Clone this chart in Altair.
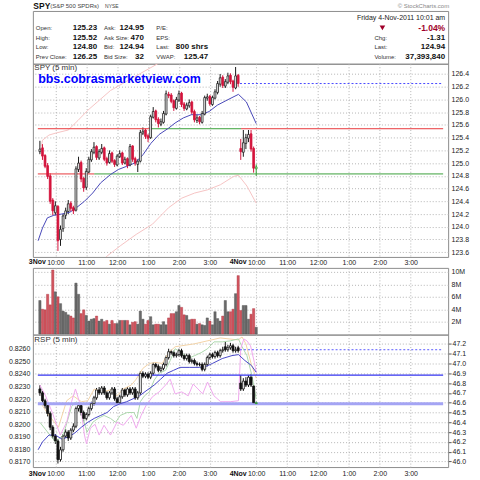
import altair as alt
import pandas as pd

# ---------------- data ----------------
spy_open = [125.18, 125.24, 125.12, 124.96, 124.80, 124.42, 124.22, 124.32, 123.80, 123.97,
            124.18, 124.24, 124.37, 124.30, 124.26, 124.90, 125.01, 124.76, 124.62, 124.86,
            125.05, 125.17, 125.26, 125.08, 125.17, 125.24, 125.07, 125.01, 125.16, 125.04,
            124.97, 125.10, 125.16, 125.00, 125.07, 124.97, 125.27, 125.07, 124.98, 125.03,
            125.47, 125.52, 125.43, 125.40, 125.72, 125.82, 125.69, 125.61, 125.64, 125.77,
            126.08, 126.07, 125.98, 125.86, 125.99, 126.10, 125.93, 125.85, 125.90, 125.96,
            125.81, 125.67, 125.72, 125.64, 125.77, 126.02, 126.05, 125.92, 126.02, 126.11,
            126.24, 126.35, 126.21, 126.27, 126.38, 126.29, 126.18, 126.38,
            125.23, 125.17, 125.31, 125.39, 125.46, 125.23, 124.91]
spy_high = [125.35, 125.30, 125.14, 125.00, 124.84, 124.45, 124.40, 124.34, 124.02, 124.20,
            124.30, 124.42, 124.40, 124.33, 124.95, 125.10, 125.04, 124.78, 124.92, 125.10,
            125.22, 125.33, 125.28, 125.22, 125.30, 125.26, 125.10, 125.20, 125.18, 125.06,
            125.14, 125.20, 125.18, 125.10, 125.09, 125.30, 125.28, 125.10, 125.06, 125.52,
            125.56, 125.54, 125.46, 125.76, 125.88, 125.84, 125.72, 125.70, 125.82, 126.14,
            126.12, 126.10, 126.00, 126.04, 126.14, 126.12, 125.96, 125.95, 126.00, 125.98,
            125.84, 125.76, 125.74, 125.82, 126.06, 126.09, 126.07, 126.06, 126.16, 126.29,
            126.40, 126.38, 126.32, 126.42, 126.41, 126.31, 126.51, 126.40,
            125.38, 125.52, 125.46, 125.52, 125.52, 125.26, 124.98]
spy_low = [125.14, 125.05, 124.92, 124.75, 124.36, 124.18, 124.18, 123.62, 123.70, 123.92,
           124.12, 124.20, 124.24, 124.20, 124.24, 124.86, 124.70, 124.55, 124.58, 124.84,
           125.02, 125.14, 125.05, 125.05, 125.14, 125.03, 124.96, 124.99, 125.00, 124.94,
           124.95, 125.08, 124.97, 124.98, 124.92, 124.95, 125.02, 124.96, 124.86, 125.01,
           125.44, 125.38, 125.33, 125.38, 125.70, 125.64, 125.56, 125.58, 125.62, 125.75,
           126.02, 125.94, 125.82, 125.84, 125.96, 125.88, 125.82, 125.83, 125.87, 125.76,
           125.64, 125.63, 125.61, 125.62, 125.75, 125.98, 125.90, 125.90, 126.00, 126.08,
           126.20, 126.18, 126.18, 126.24, 126.24, 126.12, 126.16, 126.20,
           125.05, 125.10, 125.22, 125.33, 125.18, 124.85, 124.80]
spy_close = [125.22, 125.11, 124.95, 124.79, 124.40, 124.25, 124.33, 123.78, 123.96, 124.17,
             124.25, 124.36, 124.29, 124.25, 124.91, 125.00, 124.75, 124.61, 124.87, 125.06,
             125.18, 125.25, 125.09, 125.18, 125.23, 125.06, 125.00, 125.15, 125.03, 124.98,
             125.11, 125.15, 125.00, 125.06, 124.96, 125.26, 125.06, 125.00, 125.03, 125.48,
             125.50, 125.42, 125.39, 125.73, 125.81, 125.68, 125.62, 125.65, 125.78, 126.09,
             126.06, 125.97, 125.87, 126.00, 126.09, 125.92, 125.86, 125.91, 125.95, 125.80,
             125.68, 125.71, 125.65, 125.78, 126.03, 126.04, 125.93, 126.03, 126.12, 126.25,
             126.34, 126.22, 126.28, 126.37, 126.28, 126.19, 126.37, 126.25,
             125.18, 125.32, 125.40, 125.45, 125.22, 124.92, 124.94]
volume_m = [5.4, 4.0, 3.9, 6.4, 4.7, 10.3, 6.8, 6.0, 4.9, 3.7, 3.5, 3.1, 2.9, 2.6, 8.2, 6.4, 3.3, 3.9,
            3.0, 2.1, 2.4, 2.5, 2.9, 2.1, 2.4, 2.0, 2.2, 1.6, 2.2, 1.7, 1.7, 2.2, 2.2, 2.2, 2.2, 1.5,
            1.9, 2.0, 1.6, 3.7, 2.4, 1.6, 2.2, 2.8, 1.5, 1.6, 1.6, 1.5, 2.0, 1.5, 2.6,
            3.3, 3.3, 3.6, 4.6, 4.3, 3.1, 3.0, 2.3, 2.4, 2.4, 1.6, 1.7, 1.5, 1.4, 2.6, 2.1, 1.5,
            3.6, 2.5, 2.1, 2.9, 5.4, 3.6, 3.6, 4.0, 6.5, 9.4, 3.8, 4.6, 4.6, 2.4, 3.2, 4.1, 1.1]

rsp_open = [46.74, 46.70, 46.62, 46.57, 46.49, 46.35, 46.26, 46.21, 46.02, 46.12,
            46.26, 46.30, 46.24, 46.32, 46.36, 46.54, 46.57, 46.50, 46.44, 46.48,
            46.54, 46.59, 46.65, 46.73, 46.70, 46.75, 46.70, 46.65, 46.70, 46.74,
            46.64, 46.60, 46.66, 46.73, 46.68, 46.74, 46.70, 46.74, 46.65, 46.70,
            46.90, 46.87, 46.89, 46.86, 46.90, 46.99, 46.97, 46.93, 46.95, 46.99,
            47.06, 47.12, 47.11, 47.08, 47.09, 47.13, 47.08, 47.05, 47.08, 47.02,
            47.03, 47.00, 46.99, 46.99, 46.94, 46.99, 47.06, 47.09, 47.07, 47.11,
            47.08, 47.13, 47.17, 47.14, 47.16, 47.18, 47.13, 47.16,
            46.80, 46.74, 46.82, 46.78, 46.86, 46.77, 46.59]
rsp_high = [46.78, 46.72, 46.64, 46.59, 46.51, 46.37, 46.28, 46.23, 46.15, 46.28,
            46.33, 46.32, 46.34, 46.39, 46.56, 46.60, 46.59, 46.52, 46.50, 46.56,
            46.61, 46.67, 46.75, 46.76, 46.77, 46.77, 46.72, 46.72, 46.76, 46.76,
            46.66, 46.68, 46.75, 46.75, 46.76, 46.76, 46.76, 46.76, 46.72, 46.92,
            46.92, 46.91, 46.91, 46.92, 47.01, 47.01, 46.99, 46.97, 47.01, 47.08,
            47.15, 47.14, 47.13, 47.11, 47.15, 47.15, 47.10, 47.10, 47.10, 47.05,
            47.05, 47.02, 47.01, 47.01, 47.01, 47.08, 47.11, 47.11, 47.13, 47.13,
            47.15, 47.17, 47.22, 47.19, 47.21, 47.20, 47.17, 47.18,
            46.88, 46.85, 46.86, 46.88, 46.89, 46.78, 46.61]
rsp_low = [46.67, 46.60, 46.54, 46.46, 46.32, 46.23, 46.18, 45.98, 46.00, 46.10,
           46.24, 46.21, 46.22, 46.30, 46.34, 46.51, 46.47, 46.41, 46.42, 46.46,
           46.52, 46.57, 46.63, 46.68, 46.68, 46.68, 46.63, 46.63, 46.68, 46.62,
           46.58, 46.58, 46.64, 46.66, 46.66, 46.68, 46.68, 46.63, 46.63, 46.68,
           46.85, 46.85, 46.84, 46.84, 46.88, 46.95, 46.91, 46.91, 46.93, 46.97,
           47.04, 47.09, 47.06, 47.06, 47.07, 47.06, 47.03, 47.03, 47.00, 47.00,
           46.98, 46.97, 46.97, 46.92, 46.92, 46.97, 47.04, 47.05, 47.05, 47.06,
           47.06, 47.11, 47.12, 47.12, 47.14, 47.11, 47.11, 47.11,
           46.72, 46.72, 46.76, 46.76, 46.76, 46.58, 46.58]
rsp_close = [46.70, 46.62, 46.57, 46.49, 46.35, 46.26, 46.21, 46.02, 46.12, 46.26,
             46.30, 46.24, 46.32, 46.36, 46.54, 46.57, 46.50, 46.44, 46.48, 46.54,
             46.59, 46.65, 46.73, 46.70, 46.75, 46.70, 46.65, 46.70, 46.74, 46.64,
             46.60, 46.66, 46.73, 46.68, 46.74, 46.70, 46.74, 46.65, 46.70, 46.90,
             46.87, 46.89, 46.86, 46.90, 46.99, 46.97, 46.93, 46.95, 46.99, 47.06,
             47.12, 47.11, 47.08, 47.09, 47.13, 47.08, 47.05, 47.08, 47.02, 47.03,
             47.00, 46.99, 46.99, 46.94, 46.99, 47.06, 47.09, 47.07, 47.11, 47.08,
             47.13, 47.14, 47.14, 47.16, 47.18, 47.13, 47.14, 47.13,
             46.74, 46.82, 46.78, 46.86, 46.78, 46.60, 46.60]

spy_ma_i = [-0.7, 1.0, 2.9, 5.4, 8.5, 11.7, 14.2, 17.3, 20.5, 23.6, 27.4, 30.5, 33.7, 36.8,
            40.0, 43.1, 46.3, 50.0, 52.5, 55.7, 58.8, 62.6, 65.7, 68.9, 72.7, 77.1, 80.2, 84.0]
spy_ma_v = [123.78, 123.98, 124.14, 124.18, 124.20, 124.23, 124.30, 124.40, 124.53, 124.69,
            124.82, 124.90, 124.95, 125.00, 125.13, 125.31, 125.45, 125.55, 125.63, 125.71,
            125.76, 125.76, 125.81, 125.91, 125.99, 126.08, 125.96, 125.62]
spy_up_i = [0.5, 1.0, 3.5, 6.0, 11.0, 14.8, 18.6, 22.3, 27.4, 34.3, 45.7, 55.0, 65.0, 77.0, 84.0]
spy_up_v = [125.25, 125.36, 125.44, 125.47, 125.52, 125.67, 125.83, 125.96, 126.14, 126.30,
            126.56, 126.75, 126.85, 126.95, 126.80]
spy_lo_i = [0.0, 10.0, 20.0, 26.1, 31.2, 37.4, 43.7, 50.0, 55.1, 60.1, 65.1, 70.1, 75.2, 77.1, 80.4, 84.0]
spy_lo_v = [122.60, 122.90, 123.30, 123.54, 123.70, 123.88, 124.04, 124.30, 124.45, 124.53,
            124.58, 124.66, 124.79, 124.81, 124.64, 124.37]
spy_level_v = [125.54, 125.54, 125.54, 124.83, 124.83]
spy_level_from = [-0.8, 42.6, 78.1, -0.8, 21.1]
spy_level_to = [42.6, 78.1, 156.6, 21.1, 156.6]
spy_level_kind = ["resistance", "support", "resistance", "resistance", "support"]
spy_prev_close = 126.25
rsp_prev_close = 47.14
prev_close_from = 77.7

rsp_ma_i = [-0.7, 1.0, 3.5, 6.0, 8.5, 11.0, 13.5, 16.1, 18.6, 21.1, 23.6, 26.1, 28.6, 31.2, 33.7,
            36.2, 38.7, 41.2, 44.4, 46.9, 49.4, 51.9, 54.4, 58.2, 62.0, 64.5, 67.0, 70.8, 74.6,
            77.1, 79.6, 82.1, 84.0]
rsp_ma_v = [46.12, 46.20, 46.27, 46.27, 46.23, 46.25, 46.29, 46.35, 46.40, 46.44, 46.47, 46.50,
            46.56, 46.59, 46.61, 46.64, 46.67, 46.72, 46.78, 46.84, 46.90, 46.93, 46.96, 46.96,
            46.96, 46.97, 47.00, 47.05, 47.08, 47.09, 47.03, 46.98, 46.91]
rsp_pink_i = [0, 2.2, 4.8, 7.9, 10.4, 12.3, 13.8, 15.8, 17.3, 18.1, 19.6, 21.4, 23.0, 24.9, 27.4,
              29.9, 32.4, 35.5, 37.4, 39.3, 41.2, 43.7, 46.3, 48.8, 50.6, 52.5, 55.1, 57.6, 59.5,
              61.4, 63.2, 65.1, 67.6, 70.2, 73.9, 77.1, 78.0, 79.2, 80.4, 81.8, 83.3, 84.0]
rsp_pink_v = [46.78, 46.67, 46.50, 46.27, 46.40, 46.61, 46.74, 46.57, 46.27, 46.18, 46.34, 46.38,
              46.27, 46.37, 46.27, 46.40, 46.37, 46.47, 46.34, 46.47, 46.57, 46.66, 46.71, 46.78,
              46.84, 46.69, 46.71, 46.67, 46.79, 46.74, 46.69, 46.81, 46.67, 46.61, 46.61, 46.62,
              47.15, 47.25, 47.23, 47.18, 47.01, 46.91]
rsp_green_i = [0, 3.0, 6.0, 9.1, 12.3, 14.2, 16.1, 18.3, 20.5, 22.6, 24.9, 27.4, 29.4, 31.2, 33.9,
               36.5, 37.7, 39.0, 40.6, 42.5, 44.4, 46.3, 48.8, 50.6, 52.5, 55.1, 57.6, 60.1, 62.6,
               65.1, 67.6, 70.8, 73.9, 77.1, 78.3, 80.4, 82.3, 84.0]
rsp_green_v = [46.40, 46.30, 46.20, 46.27, 46.56, 46.61, 46.50, 46.30, 46.40, 46.44, 46.47, 46.44,
               46.40, 46.47, 46.50, 46.50, 46.44, 46.61, 46.67, 46.71, 46.83, 46.90, 46.93, 47.03,
               47.15, 47.11, 47.05, 47.08, 47.11, 47.15, 47.22, 47.22, 47.23, 47.25, 47.18, 47.08,
               46.88, 46.64]
rsp_orange_i = [0, 3.5, 7.2, 10.4, 12.9, 16.1, 18.6, 21.1, 24.2, 27.4, 29.9, 32.4, 35.5, 37.4,
                40.0, 42.5, 45.0, 47.5, 50.0, 52.5, 60.0, 70.0, 77.0, 78.5, 80.0, 82.0, 84.0]
rsp_orange_v = [46.61, 46.47, 46.35, 46.62, 46.67, 46.61, 46.62, 46.74, 46.71, 46.73, 46.67, 46.74,
                46.78, 46.84, 46.95, 47.00, 47.01, 47.00, 47.11, 47.17, 47.20, 47.26, 47.24, 47.27,
                47.20, 47.00, 46.85]
rsp_level_v = [46.88, 46.59]

spy_ticks = [123.6, 123.8, 124.0, 124.2, 124.4, 124.6, 124.8, 125.0, 125.2, 125.4, 125.6,
             125.8, 126.0, 126.2, 126.4]
vol_ticks = [2, 4, 6, 8, 10]
rsp_ticks = [46.0, 46.1, 46.2, 46.3, 46.4, 46.5, 46.6, 46.7, 46.8, 46.9, 47.0, 47.1, 47.2]
ratio_ticks = [0.8170, 0.8180, 0.8190, 0.8200, 0.8210, 0.8220, 0.8230, 0.8240, 0.8250, 0.8260]
hour_ticks = [6, 18, 30, 42, 54, 66, 84, 96, 108, 120, 132, 144]
hour_labels = ["10:00", "11:00", "12:00", "1:00", "2:00", "3:00",
               "10:00", "11:00", "12:00", "1:00", "2:00", "3:00"]
day_ticks = [6, 84]
day_labels = ["3Nov", "4Nov"]

title_main = "SPY"
title_name = "(S&P 500 SPDRs)"
title_exch = "NYSE"
credit = "© StockCharts.com"
timestamp = "Friday  4-Nov-2011  10:01 am"
col1_labels = ["Open:", "High:", "Low:", "Prev Close:"]
col1_values = ["125.23", "125.52", "124.80", "126.25"]
col2_labels = ["Ask:", "Ask Size:", "Bid:", "Bid Size:"]
col2_values = ["124.95", "470", "124.94", "32"]
col3_labels = ["P/E:", "EPS:", "Last:", "VWAP:"]
col3_values = ["", "", "800 shrs", "125.47"]
side_labels = ["", "Chg:", "Last:", "Volume:"]
side_values = ["", "-1.31", "124.94", "37,393,840"]
pct_change = "-1.04%"
spy_panel_title = "SPY (5 min)"
rsp_panel_title = "RSP (5 min)"
watermark = "bbs.cobrasmarketview.com"

# ---------------- layout constants ----------------
W = 417
H_HEAD, H_PRICE, H_GAP, H_VOL, H_RSP = 53, 194, 11, 67, 133
X_DOMAIN = [-0.8, 156.6]
SPY_DOMAIN = [123.526, 126.561]
VOL_DOMAIN = [-0.08, 10.64]
RSP_DOMAIN = [45.944, 47.294]
RATIO_DOMAIN = [0.81658, 0.82713]
FONT = "Liberation Sans"
GRID = "#b4b4b4"

n = len(spy_close)
spy_prev = [spy_open[0]] + spy_close[:-1]
spy_stroke, spy_fill, vol_fill, vol_stroke, rsp_stroke, rsp_fill = [], [], [], [], [], []
for k in range(n):
    o, c, p = spy_open[k], spy_close[k], spy_prev[k]
    if k == n - 1:
        s, f = "#2f9e2f", "#c9ecc9"
    elif c >= p:
        s, f = "#1a1a1a", ("#ffffff" if c >= o else "#4a4a4a")
    else:
        s, f = ("#d4143c", "#d4143c") if c < o else ("#e8708a", "#fbdde3")
    spy_stroke.append(s)
    spy_fill.append(f)
    vol_fill.append("#d2555f" if c < p else "#6b6b6b")
    vol_stroke.append("#a83440" if c < p else "#4a4a4a")
    ro, rc = rsp_open[k], rsp_close[k]
    if k == n - 1:
        rsp_stroke.append("#2f9e2f"); rsp_fill.append("#2f9e2f")
    else:
        rsp_stroke.append("#111111"); rsp_fill.append("#ffffff" if rc >= ro else "#111111")

bars = pd.DataFrame({
    "i": list(range(n)), "o": spy_open, "h": spy_high, "l": spy_low, "c": spy_close,
    "v": volume_m, "zero": [0] * n,
    "ro": rsp_open, "rh": rsp_high, "rl": rsp_low, "rc": rsp_close,
    "s": spy_stroke, "f": spy_fill, "vf": vol_fill, "vs": vol_stroke,
    "rs": rsp_stroke, "rf": rsp_fill,
})

xscale = alt.Scale(domain=X_DOMAIN, nice=False, zero=False)
hour_expr = ("[" + ",".join("'%s'" % s for s in hour_labels) + "][indexof(["
             + ",".join(str(t) for t in hour_ticks) + "], datum.value)]")


def x_axis(labels, pad):
    return alt.Axis(values=hour_ticks, grid=True, gridColor=GRID, gridDash=[1, 2], ticks=False,
                    domain=False, labels=labels, labelExpr=hour_expr, labelFont=FONT,
                    labelFontSize=7, labelColor="#222", labelPadding=pad, labelFlush=False,
                    labelOverlap=False, labelBound=False, title=None)


def y_axis(values, fmt=None, expr=None, orient="right", ticks=False, grid=True):
    kw = dict(orient=orient, values=values, grid=grid, gridColor=GRID, gridDash=[1, 2],
              ticks=ticks, domain=False, labelFont=FONT, labelFontSize=7, labelColor="#222",
              labelPadding=1 if ticks else 3, labelFlush=False, labelOverlap=False, title=None)
    if ticks:
        kw.update(tickSize=3, tickColor="#555")
    if fmt:
        kw["format"] = fmt
    if expr:
        kw["labelExpr"] = expr
    return alt.Axis(**kw)


def line_df(xs, ys):
    return pd.DataFrame({"i": xs, "v": ys})


def txt(text, x, y, align="left", size=7, weight="normal", color="#222", font=FONT, baseline="middle"):
    return alt.Chart(pd.DataFrame({"t": [text]})).mark_text(
        align=align, baseline=baseline, font=font, fontSize=size, fontWeight=weight, color=color
    ).encode(x=alt.value(x), y=alt.value(y), text="t:N")


# ---------------- header ----------------
frame = alt.Chart(pd.DataFrame({"a": [0]})).mark_rect(opacity=0).encode(
    x=alt.value(-32), x2=alt.value(448), y=alt.value(-9), y2=alt.value(471))
head = [frame,
        txt(title_main, 0.5, -4.5, size=8.5, weight="bold", color="#111"),
        txt(title_name, 17.5, -4.5, size=6, color="#444"),
        txt(title_exch, 72.5, -4.5, size=5, color="#444"),
        txt(credit, 418, -4.5, align="right", size=6, color="#888"),
        txt(timestamp, 414, 7, align="right", size=7, color="#222"),
        txt(pct_change, 414, 17, align="right", size=8.5, weight="bold", color="#a0002a"),
        alt.Chart(pd.DataFrame({"a": [0]})).mark_point(shape="triangle-down", filled=True, size=32,
                                                      color="#a0002a", opacity=1).encode(
            x=alt.value(351), y=alt.value(17))]
row_y = [17, 26.8, 36.6, 46.4]
for labels, values, lx, vx in [(col1_labels, col1_values, 3, 64.5),
                               (col2_labels, col2_values, 71.5, 111.5),
                               (col3_labels, col3_values, 124, 176),
                               (side_labels, side_values, 343, 414)]:
    for r in range(4):
        if labels[r]:
            head.append(txt(labels[r], lx, row_y[r], size=6, color="#333"))
        if values[r]:
            head.append(txt(values[r], vx, row_y[r], align="right", size=8, weight="bold", color="#111"))
header = alt.layer(*head).properties(width=W, height=H_HEAD)

days = pd.DataFrame({"i": day_ticks, "t": day_labels})

# ---------------- price panel ----------------
px_ax = x_axis(True, 1.5)
py_ax = y_axis(spy_ticks, fmt=".1f")
spy_y = alt.Scale(domain=SPY_DOMAIN, nice=False, zero=False)


def PX(field="i"):
    return alt.X(field + ":Q", scale=xscale, axis=px_ax)


def PY(field):
    return alt.Y(field + ":Q", scale=spy_y, axis=py_ax)


spy_wick = alt.Chart(bars).mark_rule(strokeWidth=1).encode(
    x=PX(), y=PY("l"), y2="h:Q", color=alt.Color("s:N", scale=None))
spy_body = alt.Chart(bars).mark_bar(size=1.8, strokeWidth=0.8).encode(
    x=PX(), y=PY("o"), y2="c:Q",
    fill=alt.Fill("f:N", scale=None), stroke=alt.Stroke("s:N", scale=None))
levels = pd.DataFrame({"v": spy_level_v, "a": spy_level_from, "b": spy_level_to, "k": spy_level_kind})
spy_levels = alt.Chart(levels).mark_rule(strokeWidth=1).encode(
    x=PX("a"), x2="b:Q", y=PY("v"),
    color=alt.Color("k:N", scale=alt.Scale(domain=["resistance", "support"], range=["#e8383c", "#3aa03a"]),
                    legend=None))
spy_pc = alt.Chart(pd.DataFrame({"v": [spy_prev_close], "a": [prev_close_from], "b": [X_DOMAIN[1]]})).mark_rule(
    strokeWidth=1, strokeDash=[2, 2], color="#4646ff").encode(x=PX("a"), x2="b:Q", y=PY("v"))
spy_ma = alt.Chart(line_df(spy_ma_i, spy_ma_v)).mark_line(strokeWidth=1, color="#4848b8", clip=True).encode(
    x=PX(), y=PY("v"))
spy_up = alt.Chart(line_df(spy_up_i, spy_up_v)).mark_line(strokeWidth=1, color="#f6c4c4", clip=True).encode(
    x=PX(), y=PY("v"))
spy_lo = alt.Chart(line_df(spy_lo_i, spy_lo_v)).mark_line(strokeWidth=1, color="#f6c4c4", clip=True).encode(
    x=PX(), y=PY("v"))
spy_days = alt.Chart(days).mark_text(align="right", baseline="top", font=FONT, fontSize=7,
                                     fontWeight="bold", color="#111", dx=-9.5).encode(
    x=PX(), y=alt.value(H_PRICE + 1.5), text="t:N")

price = alt.layer(
    spy_wick, spy_up, spy_lo, spy_levels, spy_pc, spy_ma, spy_body,
    txt(spy_panel_title, 1.5, 4.5, size=8, color="#333"),
    txt(watermark, 5.3, 15.5, size=12.5, weight="bold", color="#0000ff"),
    spy_days,
).properties(width=W, height=H_PRICE)

# spacer row that holds the price panel's time labels
gap = alt.Chart(pd.DataFrame({"a": [0]})).mark_point(opacity=0).encode(
    x=alt.value(0), y=alt.value(0)).properties(
    width=W, height=H_GAP, view=alt.ViewBackground(strokeOpacity=0))

# ---------------- volume panel ----------------
vol_y = alt.Scale(domain=VOL_DOMAIN, nice=False, zero=False)
volume = alt.Chart(bars).mark_bar(size=2.3, strokeWidth=0.4).encode(
    x=alt.X("i:Q", scale=xscale, axis=x_axis(False, 1)),
    y=alt.Y("v:Q", scale=vol_y, axis=y_axis(vol_ticks, expr="datum.value + 'M'")), y2="zero:Q",
    fill=alt.Fill("vf:N", scale=None), stroke=alt.Stroke("vs:N", scale=None)
).properties(width=W, height=H_VOL)

# ---------------- RSP panel ----------------
rx_ax = x_axis(True, 2.5)
ry_ax = y_axis(rsp_ticks, fmt=".1f", ticks=True)
rsp_y = alt.Scale(domain=RSP_DOMAIN, nice=False, zero=False)


def RX(field="i"):
    return alt.X(field + ":Q", scale=xscale, axis=rx_ax)


def RY(field):
    return alt.Y(field + ":Q", scale=rsp_y, axis=ry_ax)


rsp_wick = alt.Chart(bars).mark_rule(strokeWidth=1).encode(
    x=RX(), y=RY("rl"), y2="rh:Q", color=alt.Color("rs:N", scale=None))
rsp_body = alt.Chart(bars).mark_bar(size=2.0, strokeWidth=0.8).encode(
    x=RX(), y=RY("ro"), y2="rc:Q",
    fill=alt.Fill("rf:N", scale=None), stroke=alt.Stroke("rs:N", scale=None))


def rsp_line(xs, ys, color, width=1):
    return alt.Chart(line_df(xs, ys)).mark_line(strokeWidth=width, color=color, clip=True).encode(
        x=RX(), y=RY("v"))


rsp_lv = pd.DataFrame({"v": rsp_level_v, "a": [X_DOMAIN[0]] * 2, "b": [X_DOMAIN[1]] * 2})
rsp_level_solid = alt.Chart(rsp_lv.iloc[[0]]).mark_rule(strokeWidth=1.3, color="#3434f0").encode(
    x=RX("a"), x2="b:Q", y=RY("v"))
rsp_level_soft = alt.Chart(rsp_lv.iloc[[1]]).mark_rule(strokeWidth=3, color="#a4a4f4").encode(
    x=RX("a"), x2="b:Q", y=RY("v"))
rsp_pc = alt.Chart(pd.DataFrame({"v": [rsp_prev_close], "a": [prev_close_from], "b": [X_DOMAIN[1]]})).mark_rule(
    strokeWidth=1, strokeDash=[2, 2], color="#5a5aff").encode(x=RX("a"), x2="b:Q", y=RY("v"))
rsp_days = alt.Chart(days).mark_text(align="right", baseline="top", font=FONT, fontSize=7,
                                     fontWeight="bold", color="#111", dx=-9.5).encode(
    x=RX(), y=alt.value(H_RSP + 2.5), text="t:N")
rsp_main = alt.layer(
    rsp_wick,
    rsp_line(rsp_orange_i, rsp_orange_v, "#f3d3a6"),
    rsp_line(rsp_green_i, rsp_green_v, "#acd8ac"),
    rsp_line(rsp_pink_i, rsp_pink_v, "#f0a8ee"),
    rsp_level_soft, rsp_level_solid, rsp_pc,
    rsp_line(rsp_ma_i, rsp_ma_v, "#4848c8"),
    rsp_body,
    txt(rsp_panel_title, 1.5, 5.5, size=8, color="#333"),
    rsp_days,
)
ratio_axis = alt.Chart(pd.DataFrame({"r": RATIO_DOMAIN})).mark_point(opacity=0).encode(
    y=alt.Y("r:Q", scale=alt.Scale(domain=RATIO_DOMAIN, nice=False, zero=False),
            axis=y_axis(ratio_ticks, fmt=".4f", orient="left", grid=False)))
rsp = alt.layer(ratio_axis, rsp_main).resolve_scale(y="independent").properties(width=W, height=H_RSP)

chart = alt.vconcat(header, price, gap, volume, rsp, spacing=0, bounds="flush").properties(
    padding=0, background="white"
).configure_view(stroke="#8c8c8c", strokeWidth=1)

chart.save("out.html", embed_options={"renderer": "svg", "actions": False})
